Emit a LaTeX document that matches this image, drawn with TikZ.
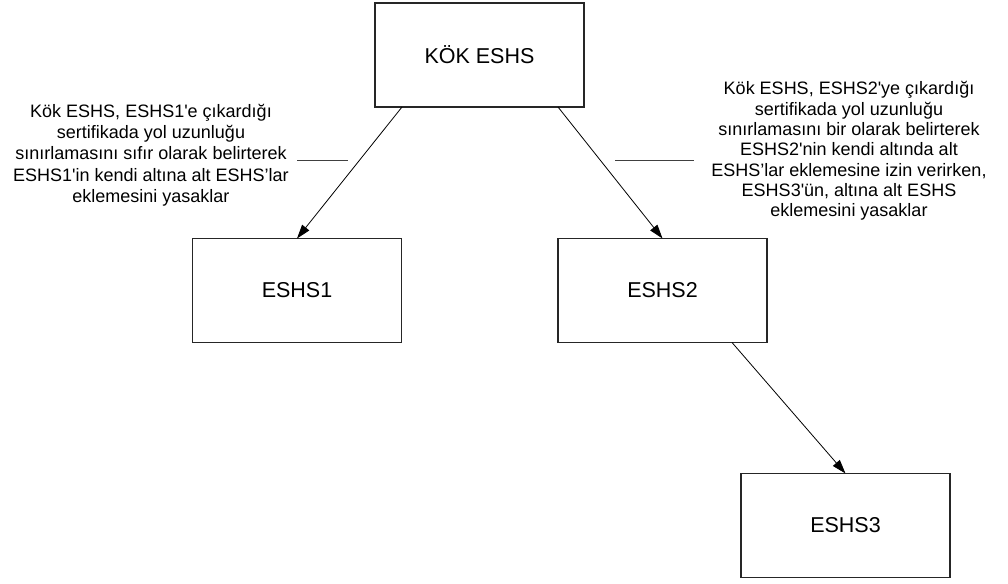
\documentclass[tikz,border=0pt]{standalone}
\usepackage{fontspec}
\setmainfont[Ligatures=TeXOff]{Liberation Sans}
\usetikzlibrary{arrows.meta}
\begin{document}
\begin{tikzpicture}[x=1pt,y=-1pt,
  ca/.style={rectangle,draw=black!85,line width=1.2pt,minimum width=209pt,minimum height=104pt,
             inner sep=0pt,outer sep=0pt,font=\fontsize{21.5}{25}\selectfont},
  link/.style={line width=0.8pt,-{Triangle[length=14pt,width=9pt]}},
  note/.style={align=center,inner sep=0pt,font=\fontsize{18}{21.3}\selectfont},
  lead/.style={line width=0.9pt,draw=black!75}]
\useasboundingbox (0,0) rectangle (1008,583);

% certificate authorities
\node[ca] (kok) at (479.5,55) {KÖK ESHS};
\node[ca] (e1) at (297,290.5) {ESHS1};
\node[ca] (e2) at (662.5,290.5) {ESHS2};
\node[ca] (e3) at (845.5,525.5) {ESHS3};

% issuing relations
\draw[link] ([xshift=27pt]kok.south west) -- (e1.north);
\draw[link] ([xshift=-26pt]kok.south east) -- (e2.north);
\draw[link] ([xshift=-35pt]e2.south east) -- (e3.north);

% explanations with leader lines
\node[note] (n1) at (151,155) {Kök ESHS, ESHS1'e çıkardığı\\sertifikada yol uzunluğu\\sınırlamasını sıfır olarak belirterek\\ESHS1'in kendi altına alt ESHS’lar\\eklemesini yasaklar};
\node[note,font=\fontsize{18}{20.3}\selectfont] (n2) at (849,151) {Kök ESHS, ESHS2'ye çıkardığı\\sertifikada yol uzunluğu\\sınırlamasını bir olarak belirterek\\ESHS2'nin kendi altında alt\\ESHS’lar eklemesine izin verirken,\\ESHS3'ün, altına alt ESHS\\eklemesini yasaklar};
\coordinate (l1a) at (297,160);
\coordinate (l1b) at (348,160);
\coordinate (l2a) at (615,160);
\coordinate (l2b) at (694,160);
\draw[lead] (l1a) -- (l1b);
\draw[lead] (l2a) -- (l2b);
\end{tikzpicture}
\end{document}
